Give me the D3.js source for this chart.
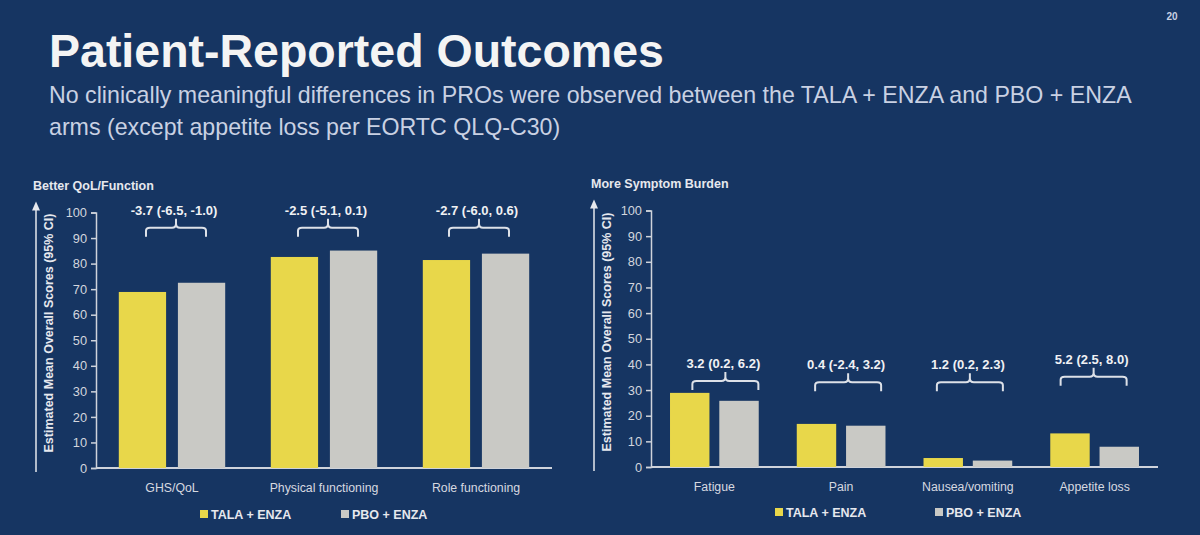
<!DOCTYPE html>
<html>
<head>
<meta charset="utf-8">
<script src="https://cdn.jsdelivr.net/npm/d3@7"></script>
<style>
  body { margin: 0; background: #163562; }
  svg { display: block; }
</style>
</head>
<body>
<div class="slide"></div>
<script>
// data
var seriesNames = ["TALA + ENZA", "PBO + ENZA"];
var seriesColors = ["#e8d74a", "#c9c9c5"];

var funcCats = ["GHS/QoL", "Physical functioning", "Role functioning"];
var funcTala = [68.9, 82.6, 81.4];
var funcPbo = [72.5, 85.1, 83.9];
var funcDiff = ["-3.7 (-6.5, -1.0)", "-2.5 (-5.1, 0.1)", "-2.7 (-6.0, 0.6)"];

var sympCats = ["Fatigue", "Pain", "Nausea/vomiting", "Appetite loss"];
var sympTala = [28.9, 16.8, 3.5, 13.1];
var sympPbo = [25.8, 16.1, 2.5, 7.9];
var sympDiff = ["3.2 (0.2, 6.2)", "0.4 (-2.4, 3.2)", "1.2 (0.2, 2.3)", "5.2 (2.5, 8.0)"];

var yTicks = [0, 10, 20, 30, 40, 50, 60, 70, 80, 90, 100];

var W = 1200, H = 535;
var svg = d3.select(".slide").append("svg").attr("width", W).attr("height", H);
svg.append("rect").attr("width", W).attr("height", H).attr("fill", "#163562");

var sans = "'Liberation Sans', Arial, sans-serif";

svg.append("text").attr("x", 1172).attr("y", 20).text("20")
   .attr("font-family", sans).attr("font-size", 10).attr("font-weight", "bold")
   .attr("text-anchor", "middle").attr("fill", "#c9d1e3");

svg.append("text").attr("x", 49).attr("y", 67).text("Patient-Reported Outcomes")
   .attr("font-family", sans).attr("font-size", 46.5).attr("font-weight", "bold")
   .attr("fill", "#f4f4f4");

var sub = ["No clinically meaningful differences in PROs were observed between the TALA + ENZA and PBO + ENZA",
           "arms (except appetite loss per EORTC QLQ-C30)"];
svg.selectAll("text.sub").data(sub).enter().append("text").attr("class", "sub")
   .attr("x", 49).attr("y", function (d, i) { return 103 + i * 32; })
   .text(function (d) { return d; })
   .attr("font-family", sans).attr("font-size", 23.2)
   .attr("fill", "#c9d1e3");

function drawChart(opt) {
  var g = svg.append("g");
  var y = d3.scaleLinear().domain([0, 100]).range([opt.y0, opt.y1]);
  var x0 = d3.scaleBand().domain(opt.cats).range([opt.x0, opt.x1])
             .paddingInner(0.3).paddingOuter(0.15);
  var x1 = d3.scaleBand().domain(seriesNames).range([0, x0.bandwidth()]).paddingInner(0.2);

  // header
  g.append("text").attr("x", opt.hx).attr("y", opt.hy).text(opt.header)
   .attr("font-family", sans).attr("font-size", 12.5).attr("font-weight", "bold")
   .attr("fill", "#e6e8ee");

  // arrow + rotated label
  g.append("line").attr("x1", opt.ax).attr("x2", opt.ax)
   .attr("y1", opt.y0 + 4).attr("y2", y(100) - 4)
   .attr("stroke", "#e6e8ee").attr("stroke-width", 1.5);
  g.append("path")
   .attr("d", "M" + (opt.ax - 4) + "," + (y(100) - 2) + "L" + opt.ax + "," + (y(100) - 11) + "L" + (opt.ax + 4) + "," + (y(100) - 2) + "Z")
   .attr("fill", "#e6e8ee");
  g.append("text")
   .attr("transform", "translate(" + (opt.ax + 17) + "," + opt.labY + ") rotate(-90)")
   .text("Estimated Mean Overall Scores (95% CI)")
   .attr("text-anchor", "middle")
   .attr("font-family", sans).attr("font-size", 12.5).attr("font-weight", "bold")
   .attr("fill", "#e6e8ee");

  // y axis
  var yAxis = g.append("g").attr("transform", "translate(" + opt.x0 + ",0)")
   .call(d3.axisLeft(y).tickValues(yTicks).tickSize(5).tickPadding(4));
  yAxis.select(".domain").attr("stroke", "#cfd3db").attr("stroke-width", 1.5);
  yAxis.selectAll(".tick line").attr("stroke", "#cfd3db").attr("stroke-width", 1.5);
  yAxis.selectAll(".tick text").attr("fill", "#d3d6de")
   .attr("font-family", sans).attr("font-size", 12.8);

  // x baseline
  g.append("line").attr("x1", opt.x0).attr("x2", opt.x1)
   .attr("y1", y(0)).attr("y2", y(0))
   .attr("stroke", "#cfd3db").attr("stroke-width", 2);

  // bars
  var rows = opt.cats.map(function (c, i) {
    return { cat: c, vals: [opt.a[i], opt.b[i]], diff: opt.diff[i] };
  });
  var grp = g.selectAll("g.cat").data(rows).enter().append("g").attr("class", "cat")
   .attr("transform", function (d) { return "translate(" + x0(d.cat) + ",0)"; });
  grp.selectAll("rect").data(function (d) {
      return d.vals.map(function (v, j) { return { s: seriesNames[j], v: v, c: seriesColors[j] }; });
    })
   .enter().append("rect")
   .attr("x", function (d) { return x1(d.s); })
   .attr("y", function (d) { return y(d.v); })
   .attr("width", x1.bandwidth())
   .attr("height", function (d) { return y(0) - y(d.v); })
   .attr("fill", function (d) { return d.c; });

  // brackets + difference labels
  grp.each(function (d, i) {
    var cx = x0.bandwidth() / 2 + opt.bOff[i];
    var hw = opt.bHalf;
    var yh = y(opt.bVal[i]);
    var p = d3.path();
    p.moveTo(cx - hw, yh + 9);
    p.lineTo(cx - hw, yh + 3);
    p.quadraticCurveTo(cx - hw, yh, cx - hw + 4, yh);
    p.lineTo(cx - 4, yh);
    p.quadraticCurveTo(cx, yh, cx, yh - 4);
    p.lineTo(cx, yh - 9);
    p.moveTo(cx, yh - 4);
    p.quadraticCurveTo(cx, yh, cx + 4, yh);
    p.lineTo(cx + hw - 4, yh);
    p.quadraticCurveTo(cx + hw, yh, cx + hw, yh + 3);
    p.lineTo(cx + hw, yh + 9);
    d3.select(this).append("path").attr("d", p.toString())
      .attr("fill", "none").attr("stroke", "#dde1e8").attr("stroke-width", 2);
    d3.select(this).append("text")
      .attr("x", cx - 2).attr("y", yh - 13)
      .attr("text-anchor", "middle").text(d.diff)
      .attr("font-family", sans).attr("font-size", 13).attr("font-weight", "bold")
      .attr("fill", "#f0f1f4");
  });

  // category labels
  g.selectAll("text.cat").data(opt.cats).enter().append("text").attr("class", "cat")
   .attr("x", function (c) { return x0(c) + x0.bandwidth() / 2; })
   .attr("y", y(0) + 24)
   .attr("text-anchor", "middle").text(function (c) { return c; })
   .attr("font-family", sans).attr("font-size", 12.3)
   .attr("fill", "#d6d9e0");

  // legend
  var lg = g.selectAll("g.leg").data(seriesNames).enter().append("g").attr("class", "leg")
   .attr("transform", function (d, j) { return "translate(" + opt.legX[j] + "," + opt.legY + ")"; });
  lg.append("rect").attr("x", 0).attr("y", -4).attr("width", 8).attr("height", 8)
   .attr("fill", function (d, j) { return seriesColors[j]; });
  lg.append("text").attr("x", 11).attr("y", 5).text(function (d) { return d; })
   .attr("font-family", sans).attr("font-size", 12.5).attr("font-weight", "bold")
   .attr("fill", "#e6e8ee");
}

drawChart({
  cats: funcCats, a: funcTala, b: funcPbo, diff: funcDiff,
  header: "Better QoL/Function", hx: 33, hy: 190,
  ax: 36, x0: 96, x1: 552, y0: 468, y1: 212.5, labY: 333,
  bOff: [4, 4, 3], bHalf: 30, bVal: [94, 94, 94],
  legX: [200, 341], legY: 514
});

drawChart({
  cats: sympCats, a: sympTala, b: sympPbo, diff: sympDiff,
  header: "More Symptom Burden", hx: 591, hy: 188,
  ax: 594, x0: 651, x1: 1158, y0: 467, y1: 210.5, labY: 332,
  bOff: [11, 7, 2, -1], bHalf: 33, bVal: [33.5, 33, 33, 35.2],
  legX: [775, 935], legY: 512
});
</script>
</body>
</html>
